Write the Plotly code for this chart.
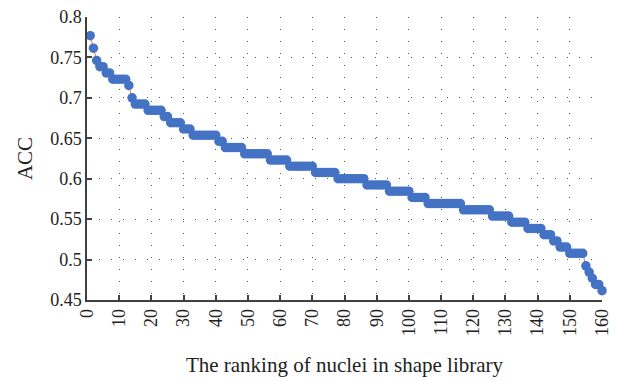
import plotly.graph_objects as go

# Rank of each nucleus in the shape library (1 = best)
ranking = list(range(1, 161))

# ACC value of each ranked nucleus
acc = [
    0.7769, 0.7615, 0.7462, 0.7385, 0.7385, 0.7308, 0.7308, 0.7231, 0.7231, 0.7231,
    0.7231, 0.7231, 0.7154, 0.7000, 0.6923, 0.6923, 0.6923, 0.6923, 0.6846, 0.6846,
    0.6846, 0.6846, 0.6846, 0.6769, 0.6769, 0.6692, 0.6692, 0.6692, 0.6692, 0.6615,
    0.6615, 0.6615, 0.6538, 0.6538, 0.6538, 0.6538, 0.6538, 0.6538, 0.6538, 0.6538,
    0.6462, 0.6462, 0.6385, 0.6385, 0.6385, 0.6385, 0.6385, 0.6385, 0.6308, 0.6308,
    0.6308, 0.6308, 0.6308, 0.6308, 0.6308, 0.6308, 0.6231, 0.6231, 0.6231, 0.6231,
    0.6231, 0.6231, 0.6154, 0.6154, 0.6154, 0.6154, 0.6154, 0.6154, 0.6154, 0.6154,
    0.6077, 0.6077, 0.6077, 0.6077, 0.6077, 0.6077, 0.6077, 0.6000, 0.6000, 0.6000,
    0.6000, 0.6000, 0.6000, 0.6000, 0.6000, 0.6000, 0.5923, 0.5923, 0.5923, 0.5923,
    0.5923, 0.5923, 0.5923, 0.5846, 0.5846, 0.5846, 0.5846, 0.5846, 0.5846, 0.5846,
    0.5769, 0.5769, 0.5769, 0.5769, 0.5769, 0.5692, 0.5692, 0.5692, 0.5692, 0.5692,
    0.5692, 0.5692, 0.5692, 0.5692, 0.5692, 0.5692, 0.5615, 0.5615, 0.5615, 0.5615,
    0.5615, 0.5615, 0.5615, 0.5615, 0.5615, 0.5538, 0.5538, 0.5538, 0.5538, 0.5538,
    0.5538, 0.5462, 0.5462, 0.5462, 0.5462, 0.5462, 0.5385, 0.5385, 0.5385, 0.5385,
    0.5385, 0.5308, 0.5308, 0.5308, 0.5231, 0.5231, 0.5154, 0.5154, 0.5154, 0.5077,
    0.5077, 0.5077, 0.5077, 0.5077, 0.4923, 0.4846, 0.4769, 0.4692, 0.4692, 0.4615,
]

x_ticks = list(range(0, 161, 10))
y_ticks = [0.45, 0.5, 0.55, 0.6, 0.65, 0.7, 0.75, 0.8]
y_ticktext = ["0.45", "0.5", "0.55", "0.6", "0.65", "0.7", "0.75", "0.8"]

FONT = "Liberation Serif"
AXIS_COLOR = "#404040"
GRID_COLOR = "#555555"

fig = go.Figure()
fig.add_trace(go.Scatter(
    x=ranking,
    y=acc,
    mode="lines+markers",
    line=dict(color="#ED7D31", width=1),
    marker=dict(color="#4472C4", size=9.5, line=dict(width=0)),
    cliponaxis=False,
    showlegend=False,
))

fig.update_layout(
    width=619,
    height=381,
    margin=dict(l=87, r=7, t=15, b=81),
    paper_bgcolor="white",
    plot_bgcolor="white",
    font=dict(family=FONT, color="#222222"),
    xaxis=dict(
        range=[0, 160],
        tickmode="array",
        tickvals=x_ticks,
        ticktext=[str(v) for v in x_ticks],
        tickangle=-90,
        tickfont=dict(size=18),
        ticklabeloverflow="allow",
        ticks="inside",
        ticklen=5,
        tickwidth=1.5,
        tickcolor=AXIS_COLOR,
        showline=True,
        linecolor=AXIS_COLOR,
        linewidth=1.5,
        showgrid=True,
        gridcolor=GRID_COLOR,
        gridwidth=1.3,
        griddash="1.3px,10.7px",
        zeroline=False,
        title=dict(text="The ranking of nuclei in shape library", font=dict(size=21), standoff=22),
    ),
    yaxis=dict(
        range=[0.45, 0.8],
        tickmode="array",
        tickvals=y_ticks,
        ticktext=y_ticktext,
        tickfont=dict(size=18),
        ticks="inside",
        ticklen=5,
        tickwidth=1.5,
        tickcolor=AXIS_COLOR,
        showline=True,
        linecolor=AXIS_COLOR,
        linewidth=1.5,
        showgrid=True,
        gridcolor=GRID_COLOR,
        gridwidth=1.3,
        griddash="1.3px,10.7px",
        zeroline=False,
        title=dict(text="ACC", font=dict(size=21), standoff=12),
    ),
)

fig.write_html("out.html")
